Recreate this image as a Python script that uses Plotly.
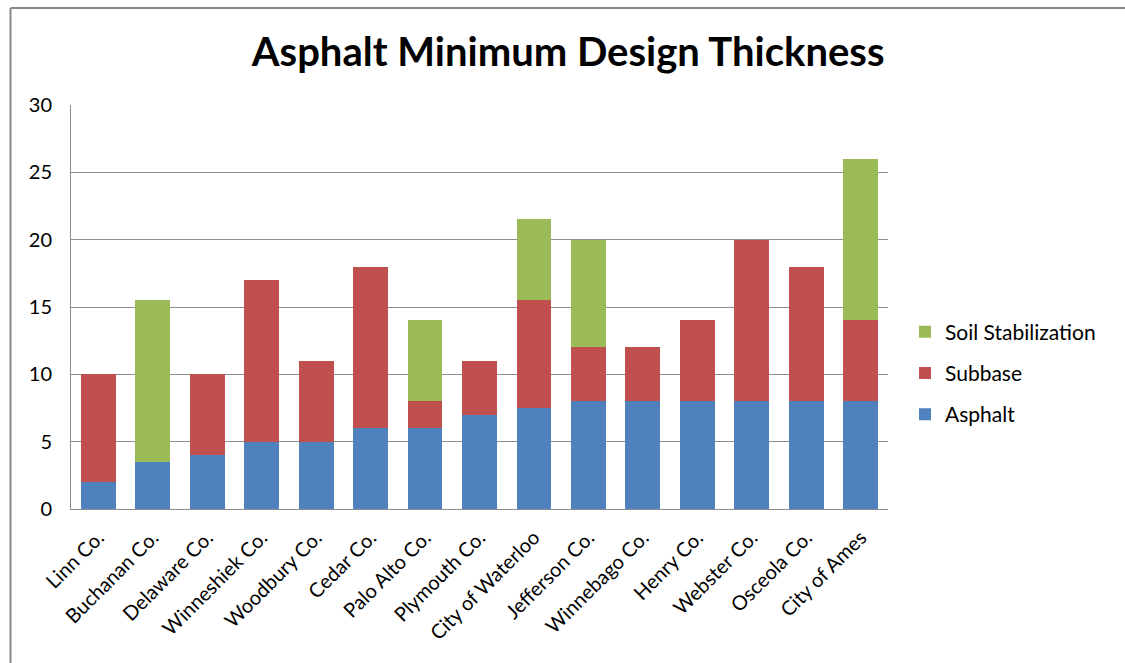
import plotly.graph_objects as go

categories = ["Linn Co.", "Buchanan Co.", "Delaware Co.", "Winneshiek Co.", "Woodbury Co.",
              "Cedar Co.", "Palo Alto Co.", "Plymouth Co.", "City of Waterloo", "Jefferson Co.",
              "Winnebago Co.", "Henry Co.", "Webster Co.", "Osceola Co.", "City of Ames"]
asphalt = [2, 3.5, 4, 5, 5, 6, 6, 7, 7.5, 8, 8, 8, 8, 8, 8]
subbase = [8, 0, 6, 12, 6, 12, 2, 4, 8, 4, 4, 6, 12, 10, 6]
soil_stabilization = [0, 12, 0, 0, 0, 0, 6, 0, 6, 8, 0, 0, 0, 0, 12]
y_ticks = [0, 5, 10, 15, 20, 25, 30]

FONT = "Lato, Open Sans, sans-serif"
GRID = "#8c8c8c"

fig = go.Figure()
series = [("Asphalt", asphalt, "#4F81BD", 3),
          ("Subbase", subbase, "#C0504D", 2),
          ("Soil Stabilization", soil_stabilization, "#9BBB59", 1)]
for name, vals, color, rank in series:
    fig.add_trace(go.Bar(x=categories, y=vals, name=name, legendgroup=name,
                         legendrank=rank,
                         marker=dict(color=color, line=dict(width=0))))

# plot area in pixels: x 71..888, y 105..509
L, R, T, B = 71, 888, 105, 509
W, H = 1125, 663
px = lambda x: (x - L) / (R - L)
py = lambda y: (B - y) / (B - T)

fig.update_layout(
    width=W, height=H,
    margin=dict(l=L, r=W - R, t=T, b=H - B),
    barmode="stack", bargap=0.36,
    paper_bgcolor="white", plot_bgcolor="white",
    font=dict(family=FONT, color="#000000", size=20),
    title=dict(text="<b>Asphalt Minimum Design Thickness</b>",
               x=0.505, xanchor="center", y=1 - 52 / H, yanchor="middle",
               font=dict(family=FONT, size=40, color="#000000")),
    legend=dict(traceorder="grouped", tracegroupgap=11,
                x=px(905), xanchor="left", y=py(373), yanchor="middle",
                font=dict(family=FONT, size=21), itemwidth=30,
                bgcolor="rgba(0,0,0,0)"),
    xaxis=dict(showgrid=False, showline=True, linecolor=GRID, linewidth=1,
               tickangle=-45, tickfont=dict(size=20), ticks="",
               ticklabelstandoff=8),
    yaxis=dict(range=[0, 30], tickvals=y_ticks, showgrid=True, gridcolor=GRID,
               gridwidth=1, showline=True, linecolor=GRID, linewidth=1,
               zeroline=False, ticks="", ticklabelstandoff=14,
               tickfont=dict(size=20)),
    shapes=[
        dict(type="line", xref="paper", yref="paper", x0=px(10.5), x1=px(10.5),
             y0=py(8), y1=py(H + 5), line=dict(color="#888888", width=2)),
        dict(type="line", xref="paper", yref="paper", x0=px(10.5), x1=px(W + 5),
             y0=py(8), y1=py(8), line=dict(color="#888888", width=2)),
    ],
)

fig.write_html("out.html")
